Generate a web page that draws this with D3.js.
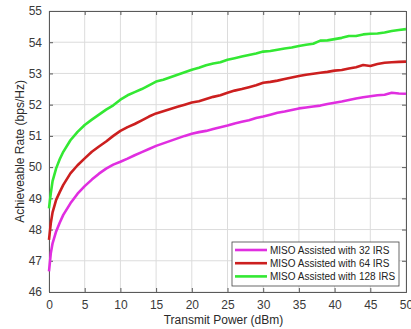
<!DOCTYPE html>
<html>
<head>
<meta charset="utf-8">
<script src="https://cdn.jsdelivr.net/npm/d3@7"></script>
<style>
  body { margin: 0; background: #fff; }
  svg { font-family: "Liberation Sans", Arial, sans-serif; }
</style>
</head>
<body>
<div id="chart"></div>
<script>
// transmit power (dBm)
const power = [0, 0.25, 0.5, 1, 1.5, 2, 3, 4, 5, 6, 7, 8, 9, 10,
  11, 12, 13, 14, 15, 16, 17, 18, 19, 20, 21, 22, 23, 24, 25,
  26, 27, 28, 29, 30, 31, 32, 33, 34, 35, 36, 37, 38, 39, 40,
  41, 42, 43, 44, 45, 46, 47, 48, 49, 50]

const rate32 = [46.66, 47.24, 47.56, 47.94, 48.22, 48.47, 48.84, 49.15, 49.39, 49.6, 49.79, 49.95, 50.08, 50.17,
  50.27, 50.38, 50.48, 50.58, 50.68, 50.76, 50.84, 50.92, 51.0, 51.07, 51.12, 51.16, 51.22, 51.28, 51.33,
  51.4, 51.45, 51.5, 51.57, 51.62, 51.68, 51.74, 51.78, 51.83, 51.88, 51.91, 51.94, 51.97, 52.02, 52.06,
  52.1, 52.15, 52.2, 52.24, 52.27, 52.3, 52.32, 52.38, 52.36, 52.35]

const rate64 = [47.67, 48.2, 48.55, 48.95, 49.2, 49.43, 49.8, 50.06, 50.28, 50.49, 50.66, 50.82, 51.0, 51.16,
  51.28, 51.38, 51.5, 51.62, 51.72, 51.79, 51.86, 51.93, 52.0, 52.07, 52.11, 52.18, 52.25, 52.3, 52.38,
  52.45, 52.5, 52.56, 52.62, 52.7, 52.73, 52.77, 52.82, 52.87, 52.92, 52.96, 52.99, 53.02, 53.05, 53.09,
  53.11, 53.16, 53.2, 53.27, 53.24, 53.3, 53.34, 53.36, 53.37, 53.38]

const rate128 = [48.68, 49.16, 49.55, 49.96, 50.25, 50.49, 50.86, 51.13, 51.35, 51.52, 51.68, 51.84, 51.98, 52.16,
  52.3, 52.4, 52.5, 52.62, 52.74, 52.8, 52.88, 52.96, 53.04, 53.12, 53.18, 53.26, 53.32, 53.36, 53.44,
  53.49, 53.54, 53.59, 53.64, 53.7, 53.72, 53.76, 53.8, 53.83, 53.88, 53.92, 53.95, 54.05, 54.06, 54.1,
  54.14, 54.2, 54.2, 54.25, 54.27, 54.28, 54.31, 54.36, 54.39, 54.42]

const seriesNames = ['MISO Assisted with 32 IRS', 'MISO Assisted with 64 IRS', 'MISO Assisted with 128 IRS']
const seriesColors = ['#e02ee0', '#cc1f1f', '#33e833']
const xTicks = [0, 5, 10, 15, 20, 25, 30, 35, 40, 45, 50]
const yTicks = [46, 47, 48, 49, 50, 51, 52, 53, 54, 55]

const width = 411, height = 329
const margin = { top: 11, right: 5, bottom: 37, left: 49 }
const innerW = width - margin.left - margin.right
const innerH = height - margin.top - margin.bottom

const svg = d3.select('#chart').append('svg')
  .attr('width', width)
  .attr('height', height)

const g = svg.append('g')
  .attr('transform', `translate(${margin.left},${margin.top})`)

const x = d3.scaleLinear().domain([0, 50]).range([0, innerW])
const y = d3.scaleLinear().domain([46, 55]).range([innerH, 0])

// grid
g.append('g').selectAll('line')
  .data(xTicks)
  .join('line')
  .attr('x1', d => x(d)).attr('x2', d => x(d))
  .attr('y1', 0).attr('y2', innerH)
  .attr('stroke', '#dcdcdc')
  .attr('stroke-width', 1)
g.append('g').selectAll('line')
  .data(yTicks)
  .join('line')
  .attr('x1', 0).attr('x2', innerW)
  .attr('y1', d => y(d)).attr('y2', d => y(d))
  .attr('stroke', '#dcdcdc')
  .attr('stroke-width', 1)

// axes (ticks inward, matlab style)
const xAxis = d3.axisBottom(x).tickValues(xTicks).tickSize(-4).tickPadding(8)
const yAxis = d3.axisLeft(y).tickValues(yTicks).tickSize(-4).tickPadding(7)

const styleAxis = sel => {
  sel.select('.domain').attr('stroke', '#5a5a5a')
  sel.selectAll('.tick line').attr('stroke', '#5a5a5a')
  sel.selectAll('.tick text').attr('fill', '#3a3a3a').style('font-size', '12px')
  sel.attr('font-family', null)
}

g.append('g')
  .attr('transform', `translate(0,${innerH})`)
  .call(xAxis)
  .call(styleAxis)
g.append('g')
  .call(yAxis)
  .call(styleAxis)
g.append('g')
  .call(d3.axisTop(x).tickValues(xTicks).tickSize(-4).tickFormat(''))
  .call(styleAxis)
g.append('g')
  .attr('transform', `translate(${innerW},0)`)
  .call(d3.axisRight(y).tickValues(yTicks).tickSize(-4).tickFormat(''))
  .call(styleAxis)

// lines
const allRates = [rate32, rate64, rate128]
const line = d3.line()
  .x((d, i) => x(power[i]))
  .y(d => y(d))

g.append('g').selectAll('path')
  .data(allRates)
  .join('path')
  .attr('d', line)
  .attr('fill', 'none')
  .attr('stroke', (d, i) => seriesColors[i])
  .attr('stroke-width', 2.6)
  .attr('stroke-linejoin', 'round')

// axis labels
svg.append('text')
  .attr('x', margin.left + innerW / 2 - 4)
  .attr('y', 324)
  .attr('text-anchor', 'middle')
  .attr('fill', '#2a2a2a')
  .style('font-size', '12px')
  .text('Transmit Power (dBm)')

svg.append('text')
  .attr('transform', `translate(24,${margin.top + innerH / 2}) rotate(-90)`)
  .attr('text-anchor', 'middle')
  .attr('fill', '#2a2a2a')
  .style('font-size', '12px')
  .text('Achieveable Rate (bps/Hz)')

// legend
const legend = svg.append('g')
  .attr('transform', 'translate(232,242)')
legend.append('rect')
  .attr('width', 167)
  .attr('height', 44)
  .attr('fill', '#fff')
  .attr('stroke', '#444')
  .attr('stroke-width', 0.8)

const items = legend.selectAll('g.item')
  .data(seriesNames)
  .join('g')
  .attr('class', 'item')
  .attr('transform', (d, i) => `translate(0,${8 + i * 13.2})`)
items.append('line')
  .attr('x1', 3).attr('x2', 35)
  .attr('stroke', (d, i) => seriesColors[i])
  .attr('stroke-width', 2.6)
items.append('text')
  .attr('x', 38)
  .attr('dy', '0.35em')
  .attr('fill', '#222')
  .style('font-size', '10px')
  .text(d => d)
</script>
</body>
</html>
